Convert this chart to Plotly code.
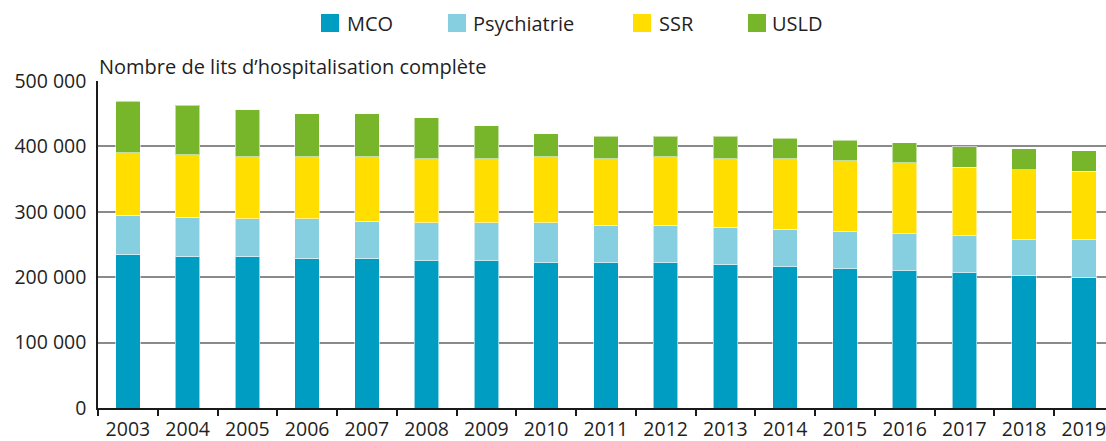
import plotly.graph_objects as go

years = [str(y) for y in range(2003, 2020)]
mco = [234900, 231800, 231800, 228800, 228800, 225100, 225100, 222000, 222000,
       222000, 219600, 215900, 212900, 209800, 206700, 203200, 199700]
psy = [60200, 60200, 57200, 60200, 56600, 57800, 57800, 60900, 57300,
       57300, 56700, 57300, 56600, 56700, 56700, 54100, 57600]
ssr = [95400, 95000, 94900, 94900, 98500, 98000, 98000, 101000, 101600,
       104600, 104600, 107700, 108300, 108200, 104700, 107200, 104700]
usld = [78700, 76100, 72500, 66300, 66300, 62700, 50500, 35200, 34700,
        31700, 34700, 31600, 31700, 31100, 31600, 31700, 31100]

series_names = ["MCO", "Psychiatrie", "SSR", "USLD"]
series_vals = [mco, psy, ssr, usld]
colors = ["#009DC3", "#86CFE1", "#FFDE00", "#77B62A"]

ytick_vals = [0, 100000, 200000, 300000, 400000, 500000]
ytick_text = ["0", "100 000", "200 000", "300 000", "400 000", "500 000"]
title_text = "Nombre de lits d\u2019hospitalisation complète"

FONT = "Open Sans"
TXT = "#1f1f24"

fig = go.Figure()
for name, vals, col in zip(series_names, series_vals, colors):
    fig.add_trace(go.Bar(
        x=years, y=vals, name=name, width=0.41,
        marker=dict(color=col, line=dict(color="rgba(255,255,255,0.55)", width=1)),
        showlegend=False,
    ))

W, H = 1106, 441
L, R, T, B = 98, 0, 81, 33
pw, ph = W - L - R, H - T - B


def px2x(px):
    return (px - L) / pw


def py2y(py):
    return (H - B - py) / ph


shapes = []
annotations = []
leg_sq = [321, 448, 633, 748]
leg_tx = [345, 471, 657, 770]
for name, col, sx, tx in zip(series_names, colors, leg_sq, leg_tx):
    shapes.append(dict(type="rect", xref="paper", yref="paper",
                       x0=px2x(sx), x1=px2x(sx + 18), y0=py2y(32), y1=py2y(14),
                       fillcolor=col, line=dict(width=0)))
    annotations.append(dict(text=name, xref="paper", yref="paper",
                            x=px2x(tx), y=py2y(23), xanchor="left", yanchor="middle",
                            showarrow=False, font=dict(family=FONT, size=20, color=TXT)))

annotations.append(dict(text=title_text, xref="paper", yref="paper",
                        x=px2x(97), y=py2y(66), xanchor="left", yanchor="middle",
                        showarrow=False, font=dict(family=FONT, size=20, color=TXT)))

fig.update_layout(
    width=W, height=H,
    margin=dict(l=L, r=R, t=T, b=B, pad=0),
    barmode="stack",
    plot_bgcolor="white", paper_bgcolor="white",
    font=dict(family=FONT, size=20, color=TXT),
    shapes=shapes,
    annotations=annotations,
    xaxis=dict(
        type="category",
        range=[-0.5, 16.37],
        showline=True, linecolor="#1a1a1a", linewidth=1.5,
        ticks="outside", tickson="boundaries", ticklen=6, tickwidth=1.5, tickcolor="#1a1a1a",
        showgrid=False,
        ticklabelstandoff=3,
        tickfont=dict(family=FONT, size=19.5, color=TXT),
    ),
    yaxis=dict(
        range=[0, 500000],
        tickvals=ytick_vals, ticktext=ytick_text,
        showline=True, linecolor="#1a1a1a", linewidth=1.5,
        showgrid=True, gridcolor="#8a8a8a", gridwidth=1.5,
        zeroline=False,
        ticks="", ticklabelstandoff=6,
        tickfont=dict(family=FONT, size=19.5, color=TXT),
    ),
)

fig.write_html("out.html", config={"displayModeBar": False},
               post_script="document.body.style.margin='0';document.body.style.overflow='hidden';")
